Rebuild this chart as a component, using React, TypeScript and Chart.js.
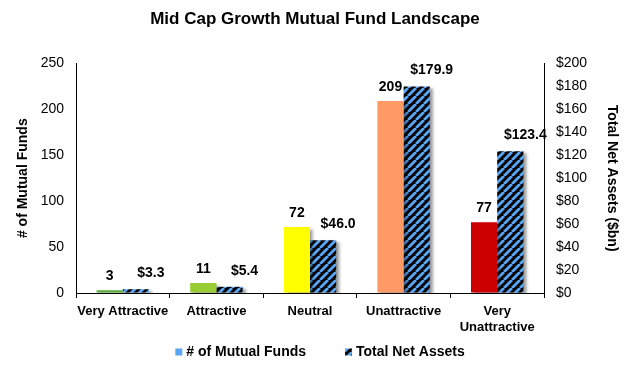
import React, { useEffect, useRef } from "react";
import { Chart, registerables } from "chart.js";

Chart.register(...registerables);

const categories: (string | string[])[] = [
  "Very Attractive",
  "Attractive",
  "Neutral",
  "Unattractive",
  ["Very", "Unattractive"],
];
const fundCounts = [3, 11, 72, 209, 77];
const netAssets = [3.3, 5.4, 46.0, 179.9, 123.4];
const barColors = ["#5aaa3c", "#99cc33", "#ffff00", "#ff9966", "#cc0000"];
const seriesNames = ["# of Mutual Funds", "Total Net Assets"];
const leftTicksMax = 250;
const rightTicksMax = 200;

const FONT = "'Liberation Sans', Arial, sans-serif";
const BLUE = "#5aa5f5";

function makeHatch(): CanvasPattern | string {
  const c = document.createElement("canvas");
  const s = 8;
  c.width = s;
  c.height = s;
  const g = c.getContext("2d");
  if (!g) return "#000";
  g.fillStyle = "#000";
  g.fillRect(0, 0, s, s);
  g.strokeStyle = BLUE;
  g.lineWidth = 2.8;
  for (const k of [0, s, 2 * s]) {
    g.beginPath();
    g.moveTo(k, 0);
    g.lineTo(k - s, s);
    g.stroke();
  }
  const p = g.createPattern(c, "repeat");
  return p || "#000";
}

export default function App() {
  const ref = useRef<HTMLCanvasElement | null>(null);

  useEffect(() => {
    if (!ref.current) return;
    const hatch = makeHatch();

    const shadowPlugin = {
      id: "barShadow",
      beforeDatasetsDraw(chart: any) {
        const ctx = chart.ctx;
        ctx.save();
        ctx.shadowColor = "rgba(0,0,0,0.4)";
        ctx.shadowOffsetX = 3;
        ctx.shadowOffsetY = 2;
        ctx.shadowBlur = 3;
      },
      afterDatasetsDraw(chart: any) {
        chart.ctx.restore();
      },
    };

    const labelPlugin = {
      id: "valueLabels",
      afterDraw(chart: any) {
        const ctx = chart.ctx;
        ctx.save();
        ctx.font = `bold 14px ${FONT}`;
        ctx.fillStyle = "#000";
        ctx.textAlign = "center";
        ctx.textBaseline = "middle";
        chart.data.datasets.forEach((ds: any, di: number) => {
          const meta = chart.getDatasetMeta(di);
          meta.data.forEach((el: any, i: number) => {
            const v = ds.data[i];
            if (di === 0) {
              ctx.fillText(String(v), el.x, el.y - 14);
            } else {
              ctx.fillText("$" + v.toFixed(1), el.x + 15, el.y - 16);
            }
          });
        });

        // legend
        ctx.font = `bold 14px ${FONT}`;
        ctx.textAlign = "left";
        const box = 7;
        const gapBox = 4;
        const gapItems = 39;
        const w0 = ctx.measureText(seriesNames[0]).width;
        const w1 = ctx.measureText(seriesNames[1]).width;
        const total = box + gapBox + w0 + gapItems + box + gapBox + w1;
        let x = chart.width / 2 + 5 - total / 2;
        const y = 352;
        ctx.fillStyle = BLUE;
        ctx.fillRect(x, y - box / 2, box, box);
        x += box + gapBox;
        ctx.fillStyle = "#000";
        ctx.fillText(seriesNames[0], x, y);
        x += w0 + gapItems;
        ctx.fillStyle = hatch as any;
        ctx.fillRect(x, y - box / 2, box, box);
        x += box + gapBox;
        ctx.fillStyle = "#000";
        ctx.fillText(seriesNames[1], x, y);
        ctx.restore();
      },
    };

    const chart = new Chart(ref.current, {
      type: "bar",
      data: {
        labels: categories,
        datasets: [
          {
            label: seriesNames[0],
            data: fundCounts,
            backgroundColor: barColors,
            yAxisID: "y",
            categoryPercentage: 0.56,
            barPercentage: 1,
          },
          {
            label: seriesNames[1],
            data: netAssets,
            backgroundColor: hatch as any,
            yAxisID: "y1",
            categoryPercentage: 0.56,
            barPercentage: 1,
          },
        ],
      },
      options: {
        responsive: false,
        animation: false,
        layout: { padding: { left: 0, right: 0, top: 0, bottom: 30 } },
        plugins: {
          tooltip: { enabled: false },
          legend: { display: false },
          title: {
            display: true,
            text: "Mid Cap Growth Mutual Fund Landscape",
            color: "#000",
            font: { family: FONT, size: 17, weight: "bold" },
            padding: { top: 9, bottom: 34 },
          },
        },
        scales: {
          x: {
            grid: {
              display: true,
              offset: true,
              drawOnChartArea: false,
              drawTicks: true,
              tickLength: 5,
              color: "#000",
            },
            border: { display: true, color: "#000", width: 1 },
            ticks: {
              color: "#000",
              font: { family: FONT, size: 13, weight: "bold" },
              padding: 6,
              maxRotation: 0,
              autoSkip: false,
            },
            afterFit: (s: any) => {
              s.height = 44;
            },
          },
          y: {
            position: "left",
            min: 0,
            max: leftTicksMax,
            grid: { display: true, drawOnChartArea: false, drawTicks: false, color: "#000" },
            border: { display: true, color: "#000", width: 1 },
            ticks: {
              stepSize: 50,
              color: "#000",
              font: { family: FONT, size: 14 },
              padding: 12,
            },
            title: {
              display: true,
              text: "# of Mutual Funds",
              color: "#000",
              font: { family: FONT, size: 14, weight: "bold" },
              padding: { top: 15, bottom: 0 },
            },
            afterFit: (s: any) => {
              s.width = 76;
            },
          },
          y1: {
            position: "right",
            min: 0,
            max: rightTicksMax,
            grid: { display: true, drawOnChartArea: false, drawTicks: false, color: "#000" },
            border: { display: true, color: "#000", width: 1 },
            ticks: {
              stepSize: 20,
              color: "#000",
              font: { family: FONT, size: 14 },
              padding: 12,
              callback: (v: any) => "$" + v,
            },
            title: {
              display: true,
              text: "Total Net Assets ($bn)",
              color: "#000",
              font: { family: FONT, size: 14, weight: "bold" },
              padding: { top: 10, bottom: 0 },
            },
            afterFit: (s: any) => {
              s.width = 86;
            },
          },
        },
      },
      plugins: [shadowPlugin, labelPlugin],
    });

    return () => chart.destroy();
  }, []);

  return (
    <div style={{ position: "absolute", left: 0, top: 0, width: 630, height: 367 }}>
      <canvas ref={ref} width={630} height={367} />
    </div>
  );
}
